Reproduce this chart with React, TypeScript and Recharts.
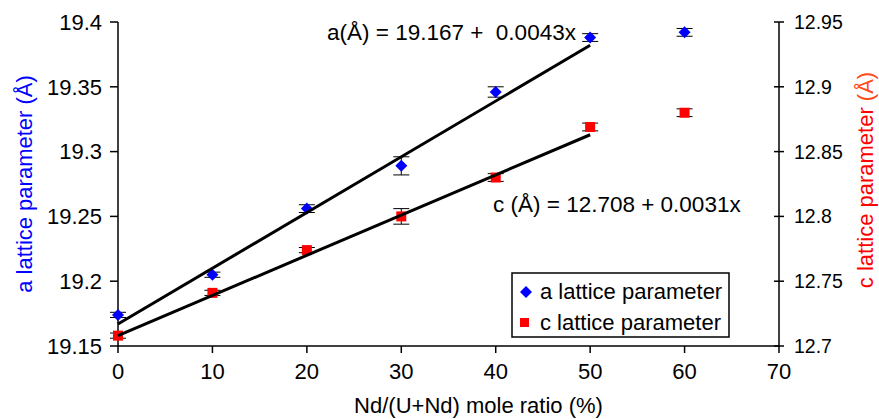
import React from "react";
import { ComposedChart, Scatter, XAxis, YAxis, ErrorBar } from "recharts";

// Nd/(U+Nd) mole ratio (%)
const ratio = [0, 10, 20, 30, 40, 50, 60];
// a lattice parameter (Å), left axis
const aValues = [19.174, 19.205, 19.256, 19.289, 19.346, 19.388, 19.392];
const aErrors = [0.002, 0.002, 0.003, 0.007, 0.004, 0.003, 0.003];
// c lattice parameter (Å), right axis
const cValues = [12.708, 12.741, 12.774, 12.8, 12.83, 12.869, 12.88];
const cErrors = [0.002, 0.002, 0.002, 0.006, 0.003, 0.003, 0.003];
// linear fits, 0..50 %
const fitX = [0, 50];
const aFit = [19.167, 19.382];
const cFit = [12.708, 12.863];

const xTicks = [0, 10, 20, 30, 40, 50, 60, 70];
const aTicks = [19.15, 19.2, 19.25, 19.3, 19.35, 19.4];
const cTicks = [12.7, 12.75, 12.8, 12.85, 12.9, 12.95];

const aData = ratio.map((x, i) => ({ x, y: aValues[i], err: aErrors[i] }));
const cData = ratio.map((x, i) => ({ x, y: cValues[i], err: cErrors[i] }));
const aFitData = fitX.map((x, i) => ({ x, y: aFit[i] }));
const cFitData = fitX.map((x, i) => ({ x, y: cFit[i] }));

const FONT = "'Liberation Sans', Arial, Helvetica, sans-serif";
const BLUE = "#0000ff";
const RED = "#ff0000";

const Diamond = (p: any) => {
  const { cx, cy } = p;
  if (cx == null || cy == null) return <g />;
  return (
    <polygon
      points={`${cx},${cy - 6} ${cx + 6},${cy} ${cx},${cy + 6} ${cx - 6},${cy}`}
      fill={BLUE}
    />
  );
};

const Square = (p: any) => {
  const { cx, cy } = p;
  if (cx == null || cy == null) return <g />;
  return <rect x={cx - 5} y={cy - 5} width={10} height={10} fill={RED} />;
};

const NoDot = () => <g />;

// right axis ticks cross the axis line: add the inner half
const RightTick = (p: any) => {
  const { x, y, payload } = p;
  return (
    <g>
      <line x1={x - 20} x2={x - 15} y1={y} y2={y} stroke="#000" strokeWidth={1.5} />
      <text x={x} y={y} dy="0.355em" textAnchor="start" fill="#000" fontSize={19.5} fontFamily={FONT}>
        {String(payload.value)}
      </text>
    </g>
  );
};

const LeftTitle = (props: any) => {
  const vb = props.viewBox || { x: 0, y: 22, width: 118, height: 324 };
  const x = vb.x + 32;
  const y = vb.y + vb.height / 2;
  return (
    <text x={x} y={y} transform={`rotate(-90 ${x} ${y})`} textAnchor="middle" fill={BLUE} fontSize={22} fontFamily={FONT}>
      a lattice parameter (Å)
    </text>
  );
};

const RightTitle = (props: any) => {
  const vb = props.viewBox || { x: 779, y: 22, width: 100, height: 324 };
  const x = vb.x + 94;
  const y = vb.y + vb.height / 2 - 4;
  return (
    <text x={x} y={y} transform={`rotate(-90 ${x} ${y})`} textAnchor="middle" fontSize={22} fontFamily={FONT}>
      <tspan fill={RED}>c lattice parameter </tspan>
      <tspan fill="#ff4a1a">(Å)</tspan>
    </text>
  );
};

const BottomTitle = (props: any) => {
  const vb = props.viewBox || { x: 118, y: 346, width: 661, height: 73 };
  const x = vb.x + vb.width / 2 + 30;
  const y = vb.y + 67;
  return (
    <text x={x} y={y} textAnchor="middle" fill="#000" fontSize={22} fontFamily={FONT}>
      Nd/(U+Nd) mole ratio (%)
    </text>
  );
};

export default function App() {
  return (
    <div style={{ position: "absolute", left: 0, top: 0, width: 879, height: 419, background: "#fff", fontFamily: FONT }}>
      <ComposedChart width={879} height={419} margin={{ top: 22, right: 0, bottom: 0, left: 0 }}>
        <XAxis
          type="number"
          dataKey="x"
          domain={[0, 70]}
          ticks={xTicks}
          height={73}
          tickSize={7}
          tickMargin={10}
          stroke="#000"
          strokeWidth={1.5}
          tick={{ fill: "#000", fontSize: 22, fontFamily: FONT }}
          label={<BottomTitle />}
        />
        <YAxis
          yAxisId="a"
          orientation="left"
          type="number"
          dataKey="y"
          domain={[19.15, 19.4]}
          ticks={aTicks}
          allowDataOverflow
          width={118}
          tickSize={8}
          tickMargin={8}
          stroke="#000"
          strokeWidth={1.5}
          tick={{ fill: "#000", fontSize: 22, fontFamily: FONT }}
          tickFormatter={(v: number) => String(v)}
          label={<LeftTitle />}
        />
        <YAxis
          yAxisId="c"
          orientation="right"
          type="number"
          dataKey="y"
          domain={[12.7, 12.95]}
          ticks={cTicks}
          allowDataOverflow
          width={100}
          tickSize={5}
          tickMargin={10}
          stroke="#000"
          strokeWidth={1.5}
          tick={<RightTick />}
          label={<RightTitle />}
        />
        <Scatter yAxisId="a" data={aData} shape={Diamond} isAnimationActive={false}>
          <ErrorBar dataKey="err" direction="y" width={8} stroke="#000" strokeWidth={1} />
        </Scatter>
        <Scatter yAxisId="c" data={cData} shape={Square} isAnimationActive={false}>
          <ErrorBar dataKey="err" direction="y" width={8} stroke="#000" strokeWidth={1} />
        </Scatter>
        <Scatter
          yAxisId="a"
          data={aFitData}
          shape={NoDot}
          line={{ stroke: "#000", strokeWidth: 3 }}
          isAnimationActive={false}
        />
        <Scatter
          yAxisId="c"
          data={cFitData}
          shape={NoDot}
          line={{ stroke: "#000", strokeWidth: 3 }}
          isAnimationActive={false}
        />
      </ComposedChart>

      <svg width={879} height={419} style={{ position: "absolute", left: 0, top: 0, pointerEvents: "none" }}>
        <text x={327} y={40} fontSize={22.5} fontFamily={FONT} fill="#000" style={{ whiteSpace: "pre" }}>
          {"a(Å) = 19.167 +  0.0043x"}
        </text>
        <text x={493} y={212} fontSize={22.5} fontFamily={FONT} fill="#000" style={{ whiteSpace: "pre" }}>
          {"c (Å) = 12.708 + 0.0031x"}
        </text>
        <rect x={512} y={273} width={217} height={64} fill="#fff" stroke="#000" strokeWidth={1.5} />
        <polygon points="526,286 532,292 526,298 520,292" fill={BLUE} />
        <text x={540} y={299} fontSize={22} fontFamily={FONT} fill="#000">a lattice parameter</text>
        <rect x={520} y={318} width={9} height={9} fill={RED} />
        <text x={540} y={330} fontSize={22} fontFamily={FONT} fill="#000">c lattice parameter</text>
      </svg>
    </div>
  );
}
